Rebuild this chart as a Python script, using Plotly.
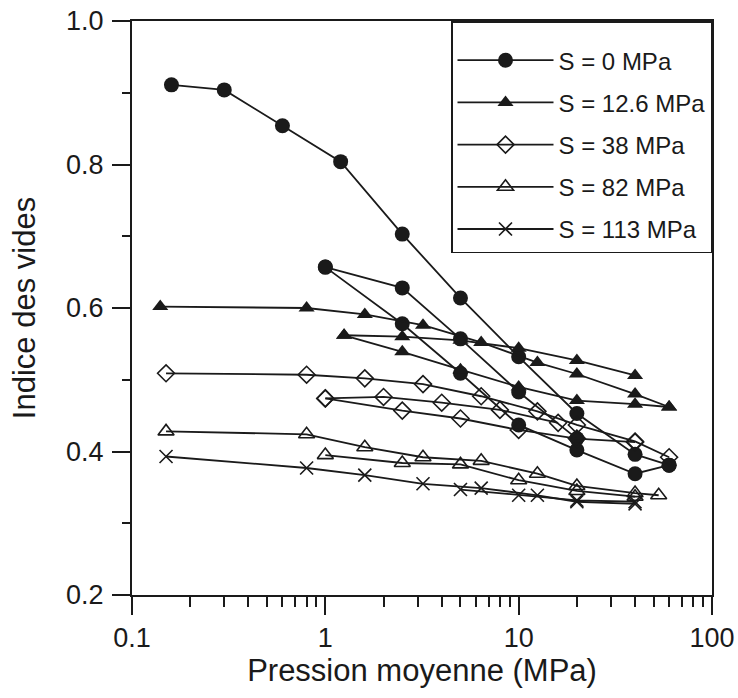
import plotly.graph_objects as go

# ---- data ----
# S = 0 MPa (three paths)
s0_a_x = [0.16, 0.3, 0.6, 1.2, 2.5, 5, 10, 20, 40, 60]
s0_a_y = [0.911, 0.904, 0.854, 0.804, 0.703, 0.614, 0.532, 0.453, 0.396, 0.381]
s0_b_x = [1.0, 2.5, 5, 10, 20]
s0_b_y = [0.657, 0.628, 0.557, 0.483, 0.418]
s0_c_x = [1.0, 2.5, 5, 10, 20, 40, 60]
s0_c_y = [0.657, 0.578, 0.509, 0.437, 0.402, 0.369, 0.381]

# S = 12.6 MPa
s12_a_x = [0.14, 0.8, 1.6, 3.2, 6.4, 12.5, 20, 40, 60]
s12_a_y = [0.602, 0.600, 0.591, 0.576, 0.552, 0.524, 0.508, 0.480, 0.462]
s12_b_x = [1.25, 2.5, 5, 10, 20, 40]
s12_b_y = [0.562, 0.560, 0.555, 0.544, 0.527, 0.506]
s12_c_x = [1.25, 2.5, 5, 10, 20, 40, 60]
s12_c_y = [0.562, 0.539, 0.514, 0.490, 0.471, 0.466, 0.462]

# S = 38 MPa
s38_a_x = [0.15, 0.8, 1.6, 3.2, 6.4, 12.5, 20, 40, 60]
s38_a_y = [0.509, 0.507, 0.502, 0.494, 0.477, 0.456, 0.437, 0.414, 0.392]
s38_b_x = [1.0, 2.0, 4.0, 8.0, 16]
s38_b_y = [0.474, 0.476, 0.468, 0.458, 0.440]
s38_c_x = [1.0, 2.5, 5, 10, 20, 40]
s38_c_y = [0.474, 0.457, 0.446, 0.430, 0.418, 0.413]

# S = 82 MPa
s82_a_x = [0.15, 0.8, 1.6, 3.2, 6.4, 12.5, 20, 40, 53]
s82_a_y = [0.428, 0.424, 0.406, 0.392, 0.387, 0.369, 0.352, 0.342, 0.339]
s82_b_x = [1.0, 2.5, 5, 10, 20, 40]
s82_b_y = [0.395, 0.384, 0.382, 0.360, 0.345, 0.337]

# S = 113 MPa
s113_a_x = [0.15, 0.8, 1.6, 3.2, 6.4, 12.5, 20, 40]
s113_a_y = [0.393, 0.377, 0.367, 0.355, 0.349, 0.339, 0.330, 0.327]
s113_b_x = [5, 10, 20, 40]
s113_b_y = [0.347, 0.339, 0.332, 0.330]

series_names = ["S = 0 MPa", "S = 12.6 MPa", "S = 38 MPa", "S = 82 MPa", "S = 113 MPa"]
series_paths = [
    [(s0_a_x, s0_a_y), (s0_b_x, s0_b_y), (s0_c_x, s0_c_y)],
    [(s12_a_x, s12_a_y), (s12_b_x, s12_b_y), (s12_c_x, s12_c_y)],
    [(s38_a_x, s38_a_y), (s38_b_x, s38_b_y), (s38_c_x, s38_c_y)],
    [(s82_a_x, s82_a_y), (s82_b_x, s82_b_y)],
    [(s113_a_x, s113_a_y), (s113_b_x, s113_b_y)],
]

INK = "#1a1a1a"
marker_styles = [
    dict(symbol="circle", size=15, color=INK, line=dict(width=0)),
    dict(symbol="triangle-up", size=14, color=INK, line=dict(width=0)),
    dict(symbol="diamond-open", size=13, color=INK, line=dict(width=1.6)),
    dict(symbol="triangle-up-open", size=14, color=INK, line=dict(width=1.6)),
    dict(symbol="x-thin-open", size=13, color=INK, line=dict(width=1.6)),
]

fig = go.Figure()
for name, paths, mk in zip(series_names, series_paths, marker_styles):
    xs, ys = [], []
    for px, py in paths:
        if xs:
            xs.append(None)
            ys.append(None)
        xs.extend(px)
        ys.extend(py)
    fig.add_trace(go.Scatter(
        x=xs, y=ys, name=name, mode="lines+markers",
        line=dict(color=INK, width=1.8), marker=mk,
        connectgaps=False, legendgroup=name,
    ))

FONT = "Liberation Sans, Arial, Helvetica, sans-serif"
fig.update_layout(
    width=738, height=698,
    margin=dict(l=132, r=26, t=21, b=103),
    paper_bgcolor="white", plot_bgcolor="white",
    font=dict(family=FONT, color=INK, size=27),
    showlegend=True,
    legend=dict(
        x=1, xanchor="right", y=1, yanchor="top",
        bgcolor="white", bordercolor=INK, borderwidth=1.5,
        font=dict(size=24, family=FONT, color=INK),
        traceorder="grouped", tracegroupgap=8,
        itemwidth=96,
        title=dict(text=" ", font=dict(size=12)),
    ),
    xaxis=dict(
        type="log", range=[-1, 2], automargin=False, ticklabeloverflow="allow",
        tickvals=[0.1, 1, 10, 100], ticktext=["0.1", "1", "10", "100"],
        ticks="outside", ticklen=18, tickwidth=2, tickcolor=INK,
        minor=dict(ticks="outside", ticklen=10, tickwidth=2, tickcolor=INK, dtick="D1", showgrid=False),
        showline=True, linecolor=INK, linewidth=2, mirror=True,
        showgrid=False, zeroline=False,
        title=dict(text="Pression moyenne (MPa)", font=dict(size=31), standoff=5),
        tickfont=dict(size=27),
    ),
    yaxis=dict(
        range=[0.2, 1.0], automargin=False, ticklabeloverflow="allow",
        tickvals=[0.2, 0.4, 0.6, 0.8, 1.0], ticktext=["0.2", "0.4", "0.6", "0.8", "1.0"],
        ticks="outside", ticklen=18, tickwidth=2, tickcolor=INK,
        minor=dict(ticks="outside", ticklen=8, tickwidth=2, tickcolor=INK, dtick=0.1, showgrid=False),
        showline=True, linecolor=INK, linewidth=2, mirror=True,
        showgrid=False, zeroline=False,
        ticklabelstandoff=3,
        title=dict(text="Indice des vides", font=dict(size=31), standoff=21),
        tickfont=dict(size=27),
    ),
)

fig.write_html("out.html", config={"displayModeBar": False},
               post_script="document.body.style.margin='0px';")
